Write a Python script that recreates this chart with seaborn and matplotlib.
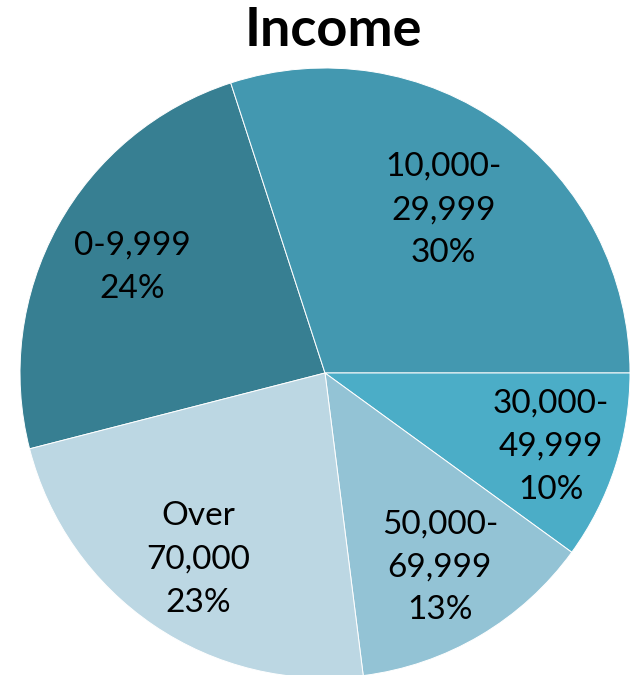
import numpy as np
import matplotlib
matplotlib.use("Agg")
import matplotlib.pyplot as plt
import seaborn as sns

sns.set_theme(style="white")
plt.rcParams['font.family'] = ['Lato', 'DejaVu Sans']

# data
categories = ["0-9,999", "10,000-\n29,999", "30,000-\n49,999", "50,000-\n69,999", "Over\n70,000"]
shares = [24, 30, 10, 13, 23]
colors = ["#377f92", "#4398b0", "#4badc7", "#93c3d5", "#bcd7e3"]
label_radius = [0.72, 0.66, 0.78, 0.74, 0.74]

fig = plt.figure(figsize=(6.34, 6.75), dpi=100)
ax = fig.add_axes([20 / 634, -3 / 675, 610 / 634, 610 / 675])

wedges, _ = ax.pie(shares, colors=colors, startangle=194.4, counterclock=False,
                   wedgeprops=dict(edgecolor="white", linewidth=0.7))
ax.set_xlim(-1, 1)
ax.set_ylim(-1, 1)
ax.set_aspect("equal")

for w, lab, val, r in zip(wedges, categories, shares, label_radius):
    mid = np.deg2rad((w.theta1 + w.theta2) / 2)
    ax.text(r * np.cos(mid), r * np.sin(mid), f"{lab}\n{val}%",
            ha="center", va="center", fontsize=24, color="black", linespacing=1.55)

fig.text(333 / 634, 1 - 31 / 675, "Income", ha="center", va="center",
         fontsize=39, fontweight="bold", color="black")

fig.savefig("out.png", dpi=100)
